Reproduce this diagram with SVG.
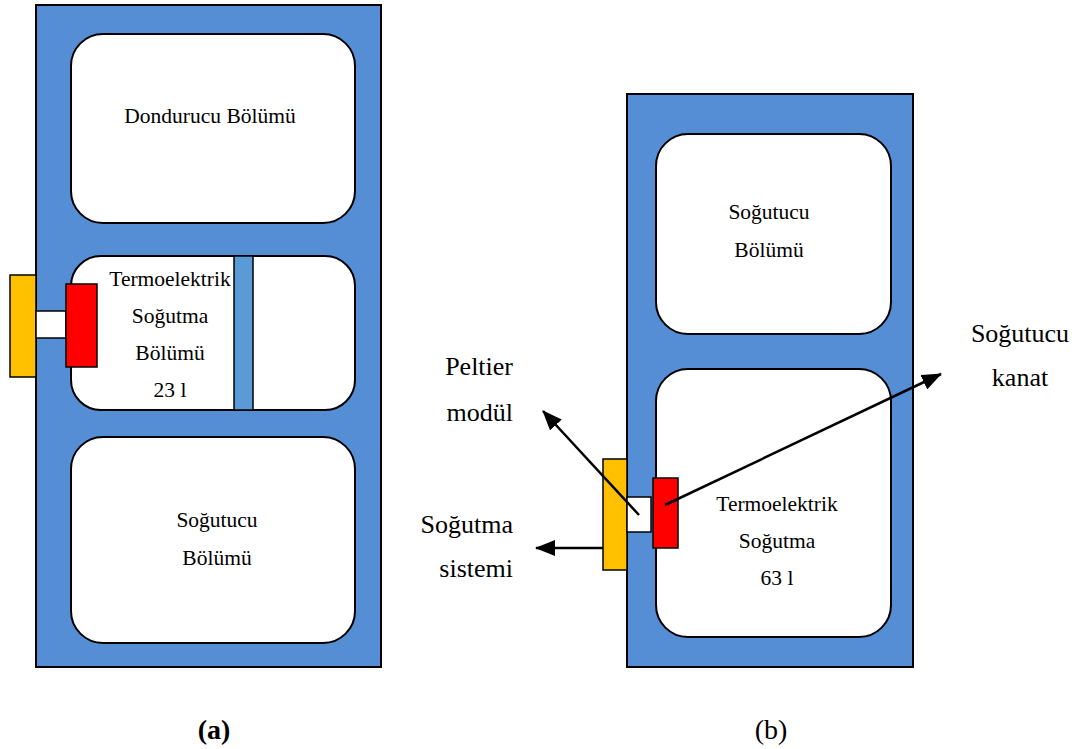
<svg xmlns="http://www.w3.org/2000/svg" width="1082" height="749" viewBox="0 0 1082 749">
<style>
.frame{fill:#558ed5;stroke:#000;stroke-width:2}
.room{fill:#fff;stroke:#000;stroke-width:2}
.t{font-family:"Liberation Serif","Times New Roman",serif;font-size:21.5px;fill:#000;text-anchor:middle}
.lbl{font-family:"Liberation Serif","Times New Roman",serif;font-size:26px;fill:#000;text-anchor:middle}
.lr{font-family:"Liberation Serif","Times New Roman",serif;font-size:26px;fill:#000;text-anchor:end}
.cap{font-family:"Liberation Serif","Times New Roman",serif;font-size:28px;fill:#000;text-anchor:middle}
.part{stroke:#000;stroke-width:1.5}
</style>
<defs>
<marker id="ah2" viewBox="0 0 20 16" refX="19" refY="8" markerWidth="20" markerHeight="16" markerUnits="userSpaceOnUse" orient="auto">
<path d="M0,0 L20,8 L0,16 z" fill="#000"/>
</marker>
</defs>
<g id="panel-a">
<rect class="frame" x="36" y="5" width="345" height="662"/>
<g id="a-freezer">
<rect class="room" x="71" y="34" width="284" height="189" rx="32"/>
<text class="t" x="210" y="123">Dondurucu Bölümü</text>
</g>
<g id="a-thermo">
<rect class="room" x="71" y="256" width="284" height="154" rx="30"/>
<text class="t" x="170" y="286">Termoelektrik</text>
<text class="t" x="170" y="323">Soğutma</text>
<text class="t" x="170" y="360">Bölümü</text>
<text class="t" x="170" y="397">23 l</text>
<rect class="part" x="234" y="256" width="19" height="154" fill="#5b9bd5"/>
</g>
<g id="a-cooler">
<rect class="room" x="71" y="437" width="284" height="206" rx="32"/>
<text class="t" x="217" y="527">Soğutucu</text>
<text class="t" x="217" y="565">Bölümü</text>
</g>
<g id="a-module">
<rect class="part" x="10" y="275" width="26" height="102" fill="#ffc000"/>
<rect class="part" x="36" y="311" width="30" height="27" fill="#fff"/>
<rect class="part" x="66" y="284" width="31" height="83" fill="#ff0000"/>
</g>
</g>
<g id="panel-b">
<rect class="frame" x="627" y="94" width="286" height="573"/>
<g id="b-cooler">
<rect class="room" x="656" y="134" width="235" height="200" rx="32"/>
<text class="t" x="769" y="219">Soğutucu</text>
<text class="t" x="769" y="257">Bölümü</text>
</g>
<g id="b-thermo">
<rect class="room" x="656" y="369" width="235" height="268" rx="32"/>
<text class="t" x="777" y="511">Termoelektrik</text>
<text class="t" x="777" y="548">Soğutma</text>
<text class="t" x="777" y="585">63 l</text>
</g>
<g id="b-module">
<rect class="part" x="603" y="459" width="24" height="111" fill="#ffc000"/>
<rect class="part" x="627" y="497" width="24" height="35" fill="#fff"/>
<rect class="part" x="653" y="478" width="25" height="70" fill="#ff0000"/>
</g>
</g>
<g id="connectors">
<line x1="639" y1="515" x2="543" y2="411" stroke="#000" stroke-width="2.5" marker-end="url(#ah2)"/>
<line x1="603" y1="548" x2="536" y2="548" stroke="#000" stroke-width="2.5" marker-end="url(#ah2)"/>
<line x1="665" y1="505" x2="941" y2="374" stroke="#000" stroke-width="2.5" marker-end="url(#ah2)"/>
</g>
<g id="labels">
<text class="lr" x="513" y="375">Peltier</text>
<text class="lr" x="513" y="421">modül</text>
<text class="lr" x="513" y="533">Soğutma</text>
<text class="lr" x="513" y="577">sistemi</text>
<text class="lbl" x="1020" y="342">Soğutucu</text>
<text class="lbl" x="1020" y="386">kanat</text>
<text class="cap" x="214" y="739" font-weight="bold">(a)</text>
<text class="cap" x="771" y="739">(b)</text>
</g>
</svg>
